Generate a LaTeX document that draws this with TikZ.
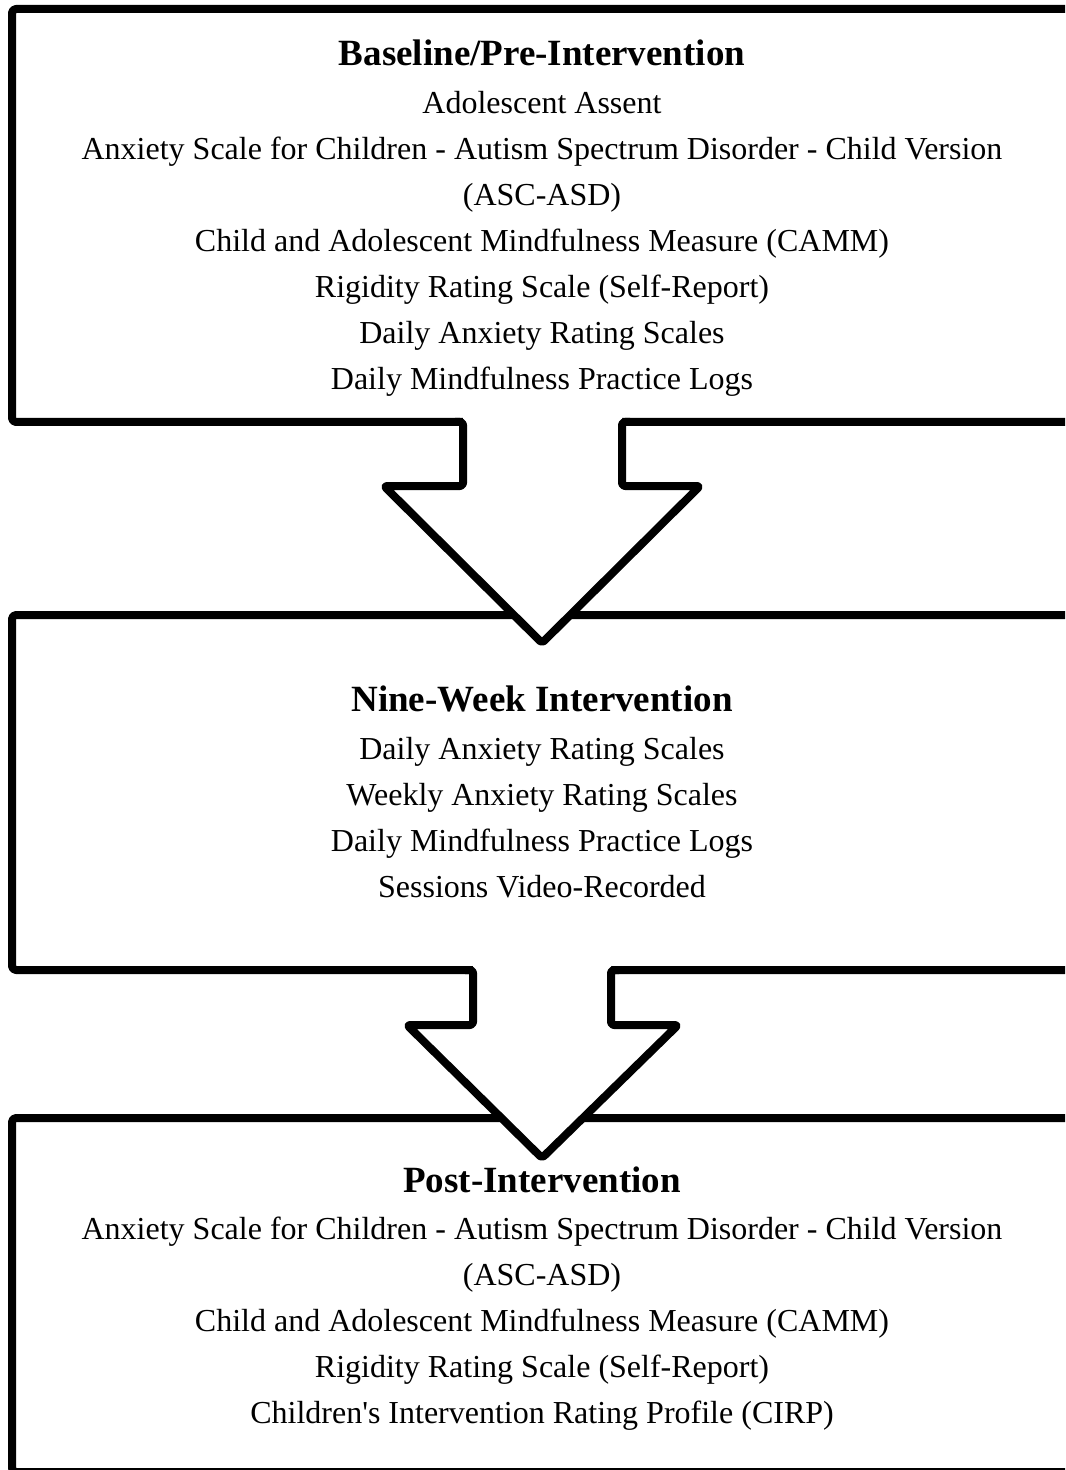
\documentclass[tikz,border=0pt]{standalone}
\usepackage{fontspec}
\setmainfont{Liberation Serif}[Ligatures=TeXOff]
\begin{document}
\begin{tikzpicture}[x=0.5pt,y=-0.5pt,
  frame/.style={draw=black,line width=4pt,rounded corners=2pt,line join=round},
  arrowline/.style={draw=black,line width=4pt,line join=round,rounded corners=1.5pt},
  ttl/.style={anchor=base,font=\fontsize{18.5}{22}\selectfont\bfseries,inner sep=0pt},
  itm/.style={anchor=base,font=\fontsize{16}{19}\selectfont,inner sep=0pt}]
\useasboundingbox (0,0) rectangle (1065,1470);
\clip (0,0) rectangle (1065,1470);
% boxes
\draw[frame] (12,9) rectangle (1085,422);
\draw[frame] (12,615) rectangle (1085,970);
\draw[frame] (12,1118) rectangle (1085,1472);
% arrow 1
\fill[white] (463,416) -- (463,486) -- (384,486) -- (542,643) -- (700,486) -- (622,486) -- (622,416) -- cycle;
\draw[arrowline] (455,422) -- (463,422) -- (463,486) -- (384,486) -- (542,643) -- (700,486) -- (622,486) -- (622,422) -- (630,422);
% arrow 2
\fill[white] (473,964) -- (473,1025) -- (407,1025) -- (542,1158) -- (678,1025) -- (611,1025) -- (611,964) -- cycle;
\draw[arrowline] (465,970) -- (473,970) -- (473,1025) -- (407,1025) -- (542,1158) -- (678,1025) -- (611,1025) -- (611,970) -- (619,970);
% box 1 text
\node[ttl] (t1) at (542,66) {Baseline/Pre-Intervention};
\node[itm] (a1) at (542,114) {Adolescent Assent};
\node[itm] (a2) at (542,160) {Anxiety Scale for Children - Autism Spectrum Disorder - Child Version};
\node[itm] (a3) at (542,206) {(ASC-ASD)};
\node[itm] (a4) at (542,252) {Child and Adolescent Mindfulness Measure (CAMM)};
\node[itm] (a5) at (542,298) {Rigidity Rating Scale (Self-Report)};
\node[itm] (a6) at (542,344) {Daily Anxiety Rating Scales};
\node[itm] (a7) at (542,390) {Daily Mindfulness Practice Logs};
% box 2 text
\node[ttl] (t2) at (542,711) {Nine-Week Intervention};
\node[itm] (b1) at (542,759) {Daily Anxiety Rating Scales};
\node[itm] (b2) at (542,805) {Weekly Anxiety Rating Scales};
\node[itm] (b3) at (542,851) {Daily Mindfulness Practice Logs};
\node[itm] (b4) at (542,897) {Sessions Video-Recorded};
% box 3 text
\node[ttl] (t3) at (542,1192) {Post-Intervention};
\node[itm] (c1) at (542,1239) {Anxiety Scale for Children - Autism Spectrum Disorder - Child Version};
\node[itm] (c2) at (542,1285) {(ASC-ASD)};
\node[itm] (c3) at (542,1331) {Child and Adolescent Mindfulness Measure (CAMM)};
\node[itm] (c4) at (542,1377) {Rigidity Rating Scale (Self-Report)};
\node[itm] (c5) at (542,1423) {Children's Intervention Rating Profile (CIRP)};
\end{tikzpicture}
\end{document}
